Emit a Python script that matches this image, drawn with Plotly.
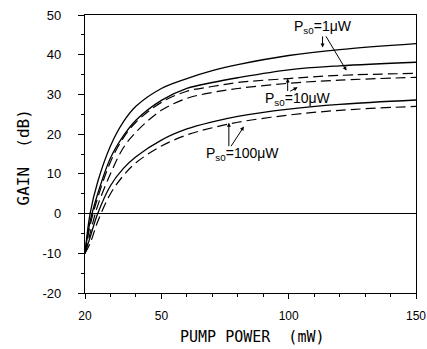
import plotly.graph_objects as go

pump = [20, 22, 25, 30, 35, 40, 50, 60, 70, 80, 100, 120, 150]

gain_1uW_solid = [-10, 0, 8, 17, 23, 27, 31.5, 34, 36, 37.5, 39.8, 41.3, 42.8]
gain_10uW_solid = [-10, -2, 5, 14, 19.5, 23.5, 28.5, 31.5, 33, 34.2, 36.2, 37.2, 38.1]
gain_100uW_solid = [-10, -6, 0, 7, 11.3, 14.3, 18.5, 21.3, 23.1, 24.5, 26.3, 27.5, 28.6]

gain_1uW_dash = [-10, -3, 4, 13, 19, 23, 28, 30.8, 32, 33, 34, 34.8, 35.3]
gain_10uW_dash = [-10, -5, 2, 10, 16.5, 20.5, 26, 29, 30.5, 31.5, 32.8, 33.6, 34.3]
gain_100uW_dash = [-10, -7.5, -2, 5, 9.5, 12.8, 17, 19.8, 21.6, 23, 24.8, 26, 27]

x_ticks = [20, 50, 100, 150]
y_ticks = [-20, -10, 0, 10, 20, 30, 40, 50]

labels = ["P<sub>s0</sub>=1\u03bcW", "P<sub>s0</sub>=10\u03bcW", "P<sub>s0</sub>=100\u03bcW"]
label_pos = [(113.5, 47.0), (103.5, 28.8), (82.0, 15.0)]
arrows = [
    ((113.3, 41.8), (113.3, 45.0)),
    ((122.7, 36.0), (114.3, 45.0)),
    ((99.6, 34.0), (99.6, 30.5)),
    ((103.5, 31.8), (100.0, 30.6)),
    ((76.5, 22.9), (76.5, 16.6)),
    ((82.4, 21.9), (77.0, 16.6)),
]

TICKFONT = "Liberation Sans, Arial, sans-serif"
TITLEFONT = "DejaVu Sans Mono, Liberation Mono, monospace"

fig = go.Figure()
for g in [gain_1uW_solid, gain_10uW_solid, gain_100uW_solid]:
    fig.add_trace(go.Scatter(x=pump, y=g, mode="lines", line=dict(color="black", width=1.3, shape="spline"),
                             showlegend=False, hoverinfo="skip"))
for g in [gain_1uW_dash, gain_10uW_dash, gain_100uW_dash]:
    fig.add_trace(go.Scatter(x=pump, y=g, mode="lines",
                             line=dict(color="black", width=1.2, shape="spline", dash="10px,5px"),
                             showlegend=False, hoverinfo="skip"))

for (head, tail) in arrows:
    fig.add_annotation(x=head[0], y=head[1], ax=tail[0], ay=tail[1], axref="x", ayref="y",
                       xref="x", yref="y", text="", showarrow=True, arrowhead=2, arrowsize=0.8,
                       arrowwidth=1, arrowcolor="black")
for txt, (lx, ly) in zip(labels, label_pos):
    fig.add_annotation(x=lx, y=ly, xref="x", yref="y", text=txt, showarrow=False,
                       font=dict(family=TICKFONT, size=14, color="black"))

fig.add_annotation(x=0.506, y=-0.158, xref="paper", yref="paper", text="PUMP POWER  (mW)",
                   xanchor="center", yanchor="middle",
                   showarrow=False, font=dict(family=TITLEFONT, size=15, color="black"))
fig.add_annotation(x=-0.186, y=0.489, xref="paper", yref="paper", text="GAIN  (dB)", textangle=-90,
                   xanchor="center", yanchor="middle",
                   showarrow=False, font=dict(family=TITLEFONT, size=16, color="black"))

fig.update_xaxes(range=[20, 150], tickmode="array", tickvals=x_ticks, ticktext=[str(v) for v in x_ticks],
                 showgrid=False, zeroline=False, showline=True, linecolor="black", linewidth=1.2,
                 mirror=True, ticks="outside", ticklen=5, tickwidth=1, tickcolor="black",
                 ticklabelstandoff=6, automargin=False,
                 minor=dict(tickmode="linear", tick0=20, dtick=10, ticks="outside", ticklen=3,
                            tickcolor="black", showgrid=False),
                 tickfont=dict(family=TICKFONT, size=12, color="black"))
fig.update_yaxes(range=[-20, 50], tickmode="array", tickvals=y_ticks, ticktext=[str(v) for v in y_ticks],
                 showgrid=False, zeroline=True, zerolinecolor="black", zerolinewidth=1.1,
                 showline=True, linecolor="black", linewidth=1.2,
                 mirror=True, ticks="outside", ticklen=6, tickwidth=1, tickcolor="black",
                 ticklabelstandoff=14, automargin=False,
                 minor=dict(tickmode="linear", tick0=-20, dtick=5, ticks="outside", ticklen=3,
                            tickcolor="black", showgrid=False),
                 tickfont=dict(family=TICKFONT, size=13, color="black"))

fig.update_layout(width=427, height=349, margin=dict(l=85, r=11, t=15, b=56),
                  plot_bgcolor="white", paper_bgcolor="white")

fig.write_html("out.html")
